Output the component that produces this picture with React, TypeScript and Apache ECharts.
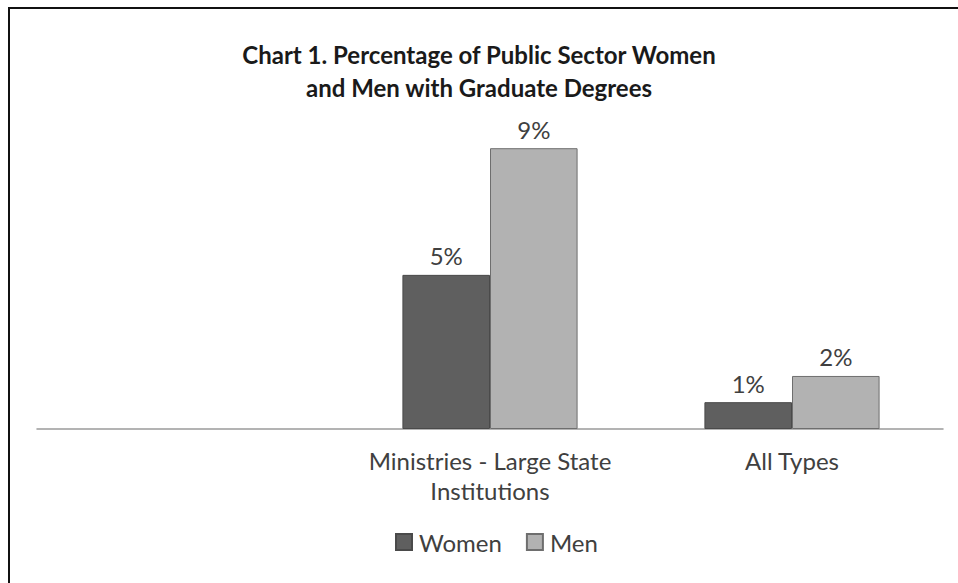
import React, { useEffect, useRef } from "react";
import * as echarts from "echarts";

const categories = ["", "Ministries - Large State\nInstitutions", "All Types"];
const women = [null, 4.94, 0.86];
const men = [null, 9.0, 1.7];
const titleLines = "Chart 1. Percentage of Public Sector Women\nand Men with Graduate Degrees";
const FONT = "Lato, 'Open Sans', sans-serif";

export default function App() {
  const ref = useRef<HTMLDivElement>(null);
  useEffect(() => {
    const chart = echarts.init(ref.current!, null, { renderer: "svg" });
    const label = {
      show: true,
      position: "top" as const,
      distance: 7,
      color: "#404040",
      fontFamily: FONT,
      fontSize: 24,
      formatter: (p: any) => Math.round(p.value) + "%",
    };
    chart.setOption({
      animation: false,
      backgroundColor: "#ffffff",
      graphic: [
        {
          type: "rect",
          shape: { x: 9, y: 8, width: 1000, height: 700 },
          style: { fill: "none", stroke: "#111", lineWidth: 2 },
          z: 100,
        },
      ],
      title: {
        text: titleLines,
        left: "center",
        top: 33,
        textStyle: {
          fontFamily: FONT,
          fontWeight: "bold",
          fontSize: 24,
          color: "#1a1a1a",
          lineHeight: 33,
        },
      },
      legend: {
        bottom: 24,
        left: 390,
        itemWidth: 16,
        itemHeight: 16,
        itemGap: 24,
        icon: "rect",
        textStyle: { fontFamily: FONT, fontSize: 24, color: "#404040", padding: [0, 0, 0, 2] },
        data: ["Women", "Men"],
      },
      grid: { left: 37, right: 15, top: 117, bottom: 583 - 429 },
      xAxis: {
        type: "category",
        data: categories,
        axisLine: { lineStyle: { color: "#9a9a9a", width: 1.5 } },
        axisTick: { show: false },
        axisLabel: {
          interval: 0,
          fontFamily: FONT,
          fontSize: 24,
          color: "#404040",
          lineHeight: 30,
          margin: 16,
        },
      },
      yAxis: {
        type: "value",
        min: 0,
        max: 10,
        show: false,
        splitLine: { show: false },
      },
      series: [
        {
          name: "Women",
          type: "bar",
          data: women,
          barGap: "0%",
          barCategoryGap: "42%",
          itemStyle: { color: "#5f5f5f", borderColor: "#4a4a4a", borderWidth: 1 },
          label,
        },
        {
          name: "Men",
          type: "bar",
          data: men,
          itemStyle: { color: "#b2b2b2", borderColor: "#6e6e6e", borderWidth: 1 },
          label,
        },
      ],
    });
    return () => chart.dispose();
  }, []);
  return (
    <div
      ref={ref}
      style={{ position: "fixed", left: 0, top: 0, width: 958, height: 583 }}
    />
  );
}
